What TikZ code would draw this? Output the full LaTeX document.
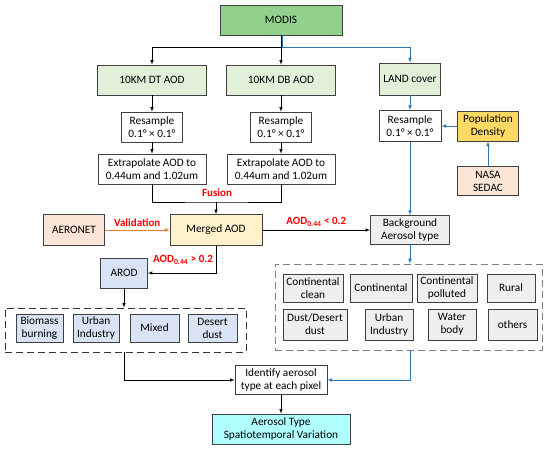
\documentclass[tikz,border=0pt]{standalone}
\usepackage{fontspec}
\setmainfont{Carlito}
\usepackage{tikz}
\usetikzlibrary{arrows}
\usetikzlibrary{shapes,positioning,calc}

\definecolor{modisgreen}{HTML}{92D08E}
\definecolor{palegreen}{HTML}{E2F0D9}
\definecolor{popyellow}{HTML}{FFD966}
\definecolor{peach}{HTML}{FBE5D6}
\definecolor{mergedyellow}{HTML}{FFF2CC}
\definecolor{paleblue}{HTML}{DAE3F3}
\definecolor{palegray}{HTML}{EFEFEF}
\definecolor{palecyan}{HTML}{B0FFFF}
\definecolor{linkblue}{HTML}{2E75B6}
\definecolor{linkorange}{HTML}{ED7D31}

\begin{document}
\begin{tikzpicture}[x=1pt,y=-1pt,>=latex,
	box/.style={draw=black!75, line width=0.6pt, align=center, inner sep=0pt,
		font=\fontsize{11.3}{13}\selectfont},
	grpbox/.style={line width=0.8pt, dash pattern=on 7pt off 4pt, inner sep=0pt},
	redlabel/.style={text=red, font=\fontsize{11}{13}\selectfont\bfseries},
	bluelink/.style={->, linkblue, line width=0.7pt},
	blacklink/.style={->, black, line width=0.6pt}]
	\useasboundingbox (0,0) rectangle (550,450);

	% sources
	\node[box, fill=modisgreen, minimum width=122pt, minimum height=30pt] (modis) at (281,20) {MODIS};
	\node[box, fill=palegreen, minimum width=109pt, minimum height=30pt] (dt) at (152,80) {10KM DT AOD};
	\node[box, fill=palegreen, minimum width=109pt, minimum height=30pt] (db) at (281,80) {10KM DB AOD};
	\node[box, fill=palegreen, minimum width=61pt, minimum height=32pt] (land) at (410,79) {LAND cover};

	% resampling
	\node[box, minimum width=61pt, minimum height=30pt] (rsdt) at (152,127) {Resample\\0.1° × 0.1°};
	\node[box, minimum width=61pt, minimum height=30pt] (rsdb) at (281,127) {Resample\\0.1° × 0.1°};
	\node[box, minimum width=62pt, minimum height=31pt] (rsland) at (410,126) {Resample\\0.1° × 0.1°};
	\node[box, fill=popyellow, minimum width=61pt, minimum height=30pt] (pop) at (488,126) {Population\\Density};
	\node[box, fill=peach, minimum width=61pt, minimum height=29pt] (nasa) at (488,181) {NASA\\SEDAC};

	\node[box, minimum width=108pt, minimum height=30pt] (exdt) at (152,169) {Extrapolate AOD to\\0.44um and 1.02um};
	\node[box, minimum width=108pt, minimum height=30pt] (exdb) at (281,169) {Extrapolate AOD to\\0.44um and 1.02um};

	% merging
	\node[box, fill=mergedyellow, minimum width=92pt, minimum height=31pt] (merged) at (216,230) {Merged AOD};
	\node[box, fill=peach, minimum width=61pt, minimum height=31pt] (aeronet) at (74,230) {AERONET};
	\node[box, fill=palegray, minimum width=79pt, minimum height=29pt] (bg) at (410,230) {Background\\Aerosol type};
	\node[box, fill=paleblue, minimum width=47pt, minimum height=30pt] (arod) at (124,273) {AROD};

	% groups of types
	\node[grpbox, draw=black!80, minimum width=241pt, minimum height=44pt] (arodgrp) at (125.5,330) {};
	\node[box, fill=paleblue, minimum width=47pt, minimum height=28pt] (bio) at (39.5,328) {Biomass\\burning};
	\node[box, fill=paleblue, minimum width=46pt, minimum height=28pt] (urb) at (96,328) {Urban\\Industry};
	\node[box, fill=paleblue, minimum width=49pt, minimum height=28pt] (mix) at (154.5,328) {Mixed};
	\node[box, fill=paleblue, minimum width=49pt, minimum height=28pt] (des) at (212.5,328) {Desert\\dust};

	\node[grpbox, draw=black!50, minimum width=267pt, minimum height=86pt] (bggrp) at (408.5,307) {};
	\node[box, fill=palegray, minimum width=60pt, minimum height=28pt] (cc) at (313,288) {Continental\\clean};
	\node[box, fill=palegray, minimum width=62pt, minimum height=28pt] (cont) at (381,288) {Continental};
	\node[box, fill=palegray, minimum width=60pt, minimum height=28pt] (cp) at (447,288) {Continental\\polluted};
	\node[box, fill=palegray, minimum width=48pt, minimum height=28pt] (rural) at (511,288) {Rural};
	\node[box, fill=palegray, minimum width=64pt, minimum height=31pt] (dust) at (315,324.5) {Dust/Desert\\dust};
	\node[box, fill=palegray, minimum width=48pt, minimum height=31pt] (urb2) at (389,324.5) {Urban\\Industry};
	\node[box, fill=palegray, minimum width=48pt, minimum height=31pt] (water) at (452,324.5) {Water\\body};
	\node[box, fill=palegray, minimum width=49pt, minimum height=31pt] (others) at (512.5,324.5) {others};

	% result
	\node[box, minimum width=92pt, minimum height=29pt] (ident) at (281,380) {Identify aerosol\\type at each pixel};
	\node[box, fill=palecyan, minimum width=138pt, minimum height=30pt] (aerotype) at (281,429) {Aerosol Type\\Spatiotemporal Variation};

	% connectors
	\coordinate (split) at (281,47);
	\coordinate (fuse) at (216,202);
	\draw[line width=0.6pt] (modis.south) -- (split);
	\draw[blacklink] (split) -| (dt.north);
	\draw[blacklink] (split) -- (db.north);
	\draw[bluelink] ([xshift=1pt]modis.south) -- ([xshift=1pt]split) -| (land.north);
	\draw[blacklink] (dt) -- (rsdt);
	\draw[blacklink] (db) -- (rsdb);
	\draw[blacklink] (rsdt) -- (exdt);
	\draw[blacklink] (rsdb) -- (exdb);
	\draw[line width=0.6pt] (exdt.south) |- (fuse) -| (exdb.south);
	\draw[blacklink] (fuse) -- (merged.north);
	\node[redlabel] at (217,193) {Fusion};
	\draw[->, linkorange, line width=0.7pt] (aeronet) -- node[redlabel, above] {Validation} (merged);
	\draw[blacklink] (merged) -- node[redlabel, above] {AOD\textsubscript{0.44} < 0.2} (bg);
	\draw[blacklink] (merged.south) |- (arod.east);
	\node[redlabel] at (183,260) {AOD\textsubscript{0.44} > 0.2};
	\draw[bluelink] (land) -- (rsland);
	\draw[bluelink] (pop) -- (rsland);
	\draw[bluelink] (nasa) -- (pop);
	\draw[bluelink] (rsland) -- (bg);
	\draw[blacklink] (arod) -- (arod |- arodgrp.north);
	\draw[bluelink] (bg) -- (bg |- bggrp.north);
	\draw[blacklink] (arod |- arodgrp.south) |- (ident.west);
	\draw[bluelink] (bg |- bggrp.south) |- (ident.east);
	\draw[blacklink] (ident) -- (aerotype);
\end{tikzpicture}
\end{document}
